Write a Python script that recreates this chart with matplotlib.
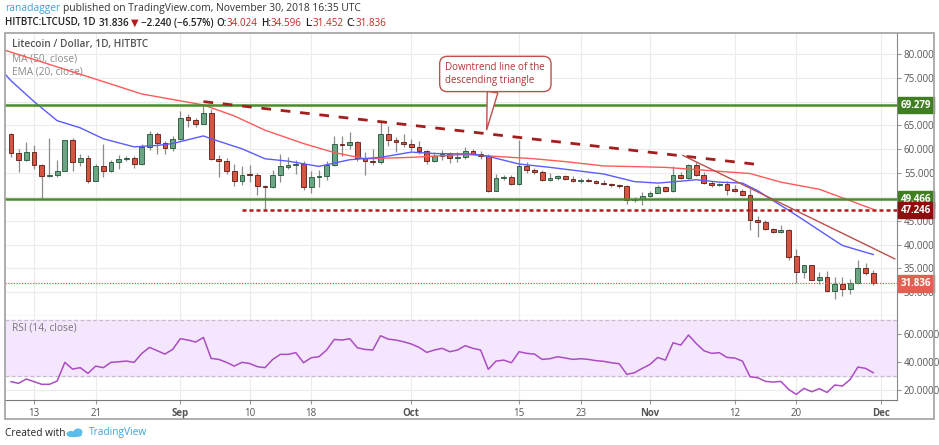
import matplotlib
matplotlib.use("Agg")
import matplotlib.pyplot as plt
import matplotlib.dates as mdates
import matplotlib.transforms as mtransforms
from matplotlib.patches import Rectangle, Ellipse
import numpy as np
import pandas as pd

plt.rcParams['font.family'] = ['Open Sans', 'DejaVu Sans']

# ---------------- data ----------------
dates = pd.date_range("2018-08-10", "2018-11-30", freq="D")

opens = [63.2, 59.2, 57.8, 59.5, 56.7, 54.3, 54.5, 55.5, 61.9, 57.3, 58.2, 53.4, 56.5, 55.4, 57.4, 58.0,
         58.2, 57.0, 60.5, 63.3, 61.4, 60.3,
         62.1, 66.7, 66.2, 65.4, 67.7, 57.9, 57.5, 55.4, 53.3, 54.7, 54.6, 52.2, 52.0, 54.6, 56.2, 56.6,
         57.0, 52.0, 54.1, 54.4, 56.7, 61.1, 60.9, 61.5, 58.2, 57.6, 57.3, 63.3, 62.0, 61.6,
         61.1, 60.4, 59.6, 57.5, 58.6, 59.0, 58.1, 58.4, 59.7, 59.1, 58.5, 51.3, 53.9, 54.2, 52.7, 56.4,
         55.7, 55.3, 53.6, 53.9, 54.4, 53.8, 53.3, 53.5, 53.3, 52.9, 52.7, 52.4, 52.2, 49.4, 49.6,
         50.1, 50.9, 52.0, 51.2, 54.6, 53.9, 56.6, 54.6, 53.0, 52.5, 52.7, 51.6, 51.3, 50.4, 45.2, 44.8,
         43.2, 42.7, 43.0, 37.5, 34.2, 35.6, 32.5, 33.1, 30.3, 31.8, 30.6, 31.9, 35.1, 34.024]
highs = [63.5, 60.1, 61.6, 60.8, 56.9, 62.4, 57.8, 62.0, 62.4, 59.0, 58.8, 57.0, 61.1, 57.7, 58.7, 58.5,
         58.5, 61.1, 63.9, 63.6, 61.7, 62.8,
         68.1, 67.4, 66.6, 69.3, 68.4, 58.7, 58.1, 57.0, 56.4, 56.6, 55.0, 52.4, 55.6, 59.0, 58.4, 57.8,
         57.6, 55.5, 55.7, 57.6, 62.8, 62.8, 63.7, 61.7, 59.4, 60.1, 65.8, 64.9, 62.5, 63.2,
         62.1, 61.8, 59.8, 59.4, 59.8, 59.4, 59.4, 60.4, 60.1, 59.6, 58.9, 54.8, 54.5, 54.5, 61.9, 57.3,
         56.1, 55.7, 55.0, 54.7, 54.7, 54.3, 53.9, 53.9, 53.5, 53.6, 53.0, 52.8, 52.4, 49.9, 51.0,
         51.2, 52.4, 52.2, 56.4, 55.2, 56.9, 57.3, 55.2, 53.4, 52.9, 53.4, 52.4, 51.7, 51.7, 45.9, 45.1,
         43.4, 44.0, 43.2, 39.1, 35.8, 35.8, 34.2, 34.5, 33.1, 33.1, 32.7, 36.7, 36.2, 34.596]
lows = [58.3, 55.2, 57.6, 55.9, 49.8, 54.1, 54.2, 55.4, 55.5, 56.4, 52.9, 53.3, 54.1, 55.2, 55.9, 57.6,
        56.1, 56.7, 59.8, 58.9, 58.9, 59.6,
        62.0, 64.6, 64.6, 65.3, 57.8, 54.1, 54.9, 52.2, 52.4, 53.1, 50.4, 47.5, 51.9, 53.1, 55.9, 54.9,
        51.5, 50.8, 52.0, 53.6, 56.5, 58.5, 60.1, 57.5, 54.7, 56.6, 57.0, 60.6, 59.4, 60.4,
        59.7, 59.0, 57.0, 57.4, 57.8, 57.1, 57.3, 58.0, 59.0, 57.9, 51.0, 51.2, 53.6, 52.4, 52.5, 55.0,
        54.8, 53.4, 53.4, 53.5, 53.5, 53.1, 52.9, 53.1, 52.7, 52.5, 52.0, 51.9, 48.6, 48.9, 48.4,
        50.0, 50.8, 51.0, 51.0, 53.8, 53.7, 54.4, 52.7, 52.0, 52.2, 50.3, 51.0, 50.1, 43.0, 41.6, 43.0,
        42.5, 42.5, 36.7, 32.0, 32.9, 32.5, 31.7, 30.1, 28.5, 29.2, 29.7, 31.8, 33.7, 31.452]
closes = [59.2, 57.8, 59.5, 56.7, 54.3, 54.5, 55.5, 61.9, 57.3, 58.2, 53.4, 56.5, 55.4, 57.4, 58.0, 58.2,
          57.0, 60.5, 63.3, 61.4, 60.3, 62.1,
          66.5, 66.2, 65.4, 67.7, 57.9, 57.5, 55.4, 53.3, 54.7, 54.6, 52.2, 52.0, 54.6, 56.4, 56.6, 56.9,
          52.0, 54.1, 54.4, 56.7, 61.1, 60.9, 61.5, 58.2, 57.6, 57.3, 63.3, 62.0, 61.6, 61.1,
          60.4, 59.6, 57.5, 58.6, 59.0, 58.1, 58.4, 59.7, 59.1, 58.5, 51.3, 54.0, 54.2, 52.7, 56.4, 55.7,
          55.3, 53.6, 53.9, 54.4, 53.8, 53.3, 53.5, 53.3, 52.9, 52.7, 52.4, 52.2, 49.4, 49.6, 50.1,
          50.9, 52.0, 51.2, 54.6, 53.9, 56.6, 54.6, 53.0, 52.5, 52.7, 51.5, 51.3, 50.4, 45.2, 44.8, 43.2,
          42.7, 43.0, 37.4, 34.2, 35.6, 32.5, 33.1, 30.3, 31.8, 30.6, 31.9, 35.1, 34.024, 31.836]

rsi = [26.0, 24.8, 27.9, 26.0, 24.1, 24.1, 26.4, 39.8, 35.0, 36.0, 31.9, 37.1, 36.0, 39.8, 40.2, 40.7,
       39.8, 46.2, 50.5, 48.1, 45.7, 49.0,
       56.7, 55.7, 54.3, 57.6, 42.6, 41.9, 39.8, 37.1, 39.8, 39.0, 36.7, 36.0, 41.9, 45.5, 45.5, 46.7,
       39.5, 43.1, 43.8, 48.6, 56.2, 55.7, 56.7, 50.2, 49.0, 48.6, 58.8, 56.4, 55.7, 54.5,
       52.9, 50.5, 46.9, 48.6, 49.8, 47.4, 48.6, 51.7, 49.8, 48.6, 34.8, 40.7, 41.4, 39.5, 47.4, 46.2,
       45.7, 41.9, 42.4, 43.8, 42.9, 41.9, 42.4, 41.9, 41.0, 40.5, 39.5, 38.8, 31.2, 32.4, 35.5,
       38.3, 43.3, 41.4, 53.8, 52.1, 59.3, 53.3, 48.1, 46.2, 46.7, 43.3, 42.9, 40.7, 29.5, 28.8, 26.2,
       25.7, 26.2, 20.5, 16.9, 21.2, 18.8, 21.0, 18.3, 23.6, 22.9, 27.6, 36.4, 35.5, 32.4]

ma50_dates = ["2018-08-09", "2018-08-22", "2018-08-27", "2018-09-04", "2018-09-08", "2018-09-12",
              "2018-09-17", "2018-09-21", "2018-09-25", "2018-10-01", "2018-10-08", "2018-10-17",
              "2018-10-21", "2018-10-26", "2018-11-03", "2018-11-08", "2018-11-14", "2018-11-18",
              "2018-11-23", "2018-11-27", "2018-11-30"]
ma50_vals = [80.9, 74.2, 71.6, 69.3, 67.0, 64.0, 61.2, 59.3, 58.0, 58.3, 58.9, 58.0,
             57.4, 56.5, 56.2, 55.6, 54.9, 53.1, 51.6, 49.2, 47.4]

ema20_dates = ["2018-08-09", "2018-08-10", "2018-08-13", "2018-08-16", "2018-08-19", "2018-08-22",
               "2018-08-26", "2018-08-29", "2018-08-31", "2018-09-04", "2018-09-05", "2018-09-09",
               "2018-09-12", "2018-09-15", "2018-09-19", "2018-09-23", "2018-09-27", "2018-10-01",
               "2018-10-04", "2018-10-09", "2018-10-11", "2018-10-15", "2018-10-19", "2018-10-23",
               "2018-10-26", "2018-10-30", "2018-11-02", "2018-11-05", "2018-11-07", "2018-11-10",
               "2018-11-13", "2018-11-15", "2018-11-17", "2018-11-19", "2018-11-21", "2018-11-24",
               "2018-11-26", "2018-11-30"]
ema20_vals = [76.2, 74.4, 70.0, 66.0, 64.5, 62.2, 60.5, 60.8, 61.2, 62.8, 62.2, 60.1,
              58.0, 57.5, 56.4, 57.8, 58.3, 59.4, 59.1, 59.0, 58.5, 56.9, 56.2, 55.4,
              54.8, 53.2, 52.9, 53.3, 53.6, 53.1, 52.9, 51.3, 49.2, 47.2, 45.1, 41.9,
              39.8, 37.9]

# drawn lines
triangle_top = (["2018-09-04", "2018-11-15"], [70.0, 56.8])
channel_line = (["2018-11-05 07:00", "2018-12-02 19:00"], [58.7, 37.0])
support_start = "2018-09-09"
green_levels = [69.279, 49.466]
red_level = 47.246
last_close = 31.836

price_ticks = [30, 35, 40, 45, 50, 55, 60, 65, 70, 75, 80]
hidden_ticks = [50, 70]  # covered by the level labels on the scale
rsi_ticks = [20, 40, 60]
date_ticks = ["2018-08-13", "2018-08-21", "2018-09-01", "2018-09-10", "2018-09-18", "2018-10-01",
              "2018-10-15", "2018-10-23", "2018-11-01", "2018-11-12", "2018-11-20", "2018-12-01"]
date_labels = ["13", "21", "Sep", "10", "18", "Oct", "15", "23", "Nov", "12", "20", "Dec"]

# ---------------- figure ----------------
W, H = 939, 445
fig = plt.figure(figsize=(W / 100, H / 100), dpi=100)
fig.patch.set_facecolor("white")


def fx(x):
    return x / W


def fy(y):
    return 1 - y / H


ax = fig.add_axes([fx(5), fy(316), fx(892), (316 - 33) / H])
ax2 = fig.add_axes([fx(5), fy(400), fx(892), (400 - 316) / H], sharex=ax)

x = mdates.date2num(dates)
o = np.array(opens)
c = np.array(closes)
h = np.array(highs)
l = np.array(lows)
up = c >= o

ax.vlines(x, l, h, color="#8c8c8c", lw=0.9, zorder=3)
body = np.maximum(np.abs(c - o), 0.15)
ax.bar(x[up], body[up], bottom=np.minimum(o, c)[up], width=0.62, color="#6ba583",
       edgecolor="#225437", lw=0.6, zorder=4)
ax.bar(x[~up], body[~up], bottom=np.minimum(o, c)[~up], width=0.62, color="#d75442",
       edgecolor="#5b1a13", lw=0.6, zorder=4)

ax.plot(pd.to_datetime(ma50_dates), ma50_vals, color="#ff5a5a", lw=1.0, zorder=5)
ax.plot(pd.to_datetime(ema20_dates), ema20_vals, color="#5b5bff", lw=1.0, zorder=5)

for lv in green_levels:
    ax.axhline(lv, color="#4a8c2a", lw=1.8, zorder=6)
ax.plot(pd.to_datetime([support_start, "2018-12-05"]), [red_level, red_level], color="#b01c1c",
        lw=1.8, ls=(0, (1.6, 1.2)), zorder=6)
ax.axhline(last_close, color="#e8574a", lw=0.9, ls=(0, (1, 1.2)), zorder=6)
ax.plot(pd.to_datetime(triangle_top[0]), triangle_top[1], color="#a31f1f", lw=2.0,
        ls=(0, (3.5, 3.5)), zorder=6)
ax.plot(pd.to_datetime(channel_line[0]), channel_line[1], color="#b5504a", lw=1.0, zorder=6)

ax.annotate("Downtrend line of the\ndescending triangle",
            xy=(pd.Timestamp("2018-10-10 19:00"), 64.1),
            xytext=(pd.Timestamp("2018-10-11 22:00"), 75.8),
            ha="center", va="center", multialignment="left", fontsize=7, color="#b03434", zorder=8,
            bbox=dict(boxstyle="round,pad=0.6,rounding_size=0.8", fc="white", ec="#c0504d", lw=1),
            arrowprops=dict(arrowstyle="wedge,tail_width=1.1,shrink_factor=0.5", fc="white",
                            ec="#c0504d", lw=1, shrinkA=0, shrinkB=0))

ax.set_xlim(pd.Timestamp("2018-08-09 05:30"), pd.Timestamp("2018-12-03 02:00"))
ax.set_ylim(25.0, 84.4)
ax.set_yticks(price_ticks)
ax.yaxis.tick_right()
ax.yaxis.set_major_formatter(matplotlib.ticker.FuncFormatter(
    lambda v, p: "" if round(v) in hidden_ticks else f"{v:.3f}"))
ax.tick_params(axis="y", length=3, color="#999999", labelsize=7, labelcolor="#555555", pad=2)
ax.tick_params(axis="x", length=0, labelbottom=False)
ax.set_xticks(pd.to_datetime(date_ticks))
ax.grid(True, color="#ececec", lw=0.8, zorder=0)
ax.set_axisbelow(True)
for s in ["top", "left"]:
    ax.spines[s].set_visible(False)
ax.spines["right"].set_color("#8a8a8a")
ax.spines["bottom"].set_color("#7a7a7a")

# price labels on the scale
tr = mtransforms.blended_transform_factory(ax.transAxes, ax.transData)
for val, col in [(69.279, "#3f7f22"), (49.466, "#3f7f22"), (47.246, "#8f0d0d"), (31.836, "#e45f52")]:
    ax.text(1.004, val, f"{val:.3f}", transform=tr, ha="left", va="center", fontsize=7,
            color="white", fontweight="bold", zorder=10,
            bbox=dict(boxstyle="square,pad=0.28", fc=col, ec=col))

ax.text(fx(7) / fx(892), 1 - (45 - 33) / 283, "Litecoin / Dollar, 1D, HITBTC", transform=ax.transAxes,
        fontsize=7.3, color="#555555", fontweight="semibold", va="center")
ax.text(fx(7) / fx(892), 1 - (59 - 33) / 283, "MA (50, close)", transform=ax.transAxes,
        fontsize=7.3, color="#8a8a8a", va="center")
ax.text(fx(7) / fx(892), 1 - (72 - 33) / 283, "EMA (20, close)", transform=ax.transAxes,
        fontsize=7.3, color="#8a8a8a", va="center")

# ---------------- RSI panel ----------------
ax2.axhspan(30, 70, color="#f4e6fd", zorder=1)
ax2.axhline(30, color="#c6bccc", lw=0.9, ls=(0, (3, 2)), zorder=2)
ax2.axhline(70, color="#c6bccc", lw=0.9, ls=(0, (3, 2)), zorder=2)
ax2.plot(dates, rsi, color="#ac4cc4", lw=1.1, zorder=4)
ax2.set_ylim(12.9, 72.9)
ax2.set_yticks(rsi_ticks)
ax2.yaxis.tick_right()
ax2.yaxis.set_major_formatter(matplotlib.ticker.FuncFormatter(lambda v, p: f"{v:.4f}"))
ax2.tick_params(axis="y", length=3, color="#999999", labelsize=7, labelcolor="#555555", pad=2)
ax2.set_xticks(pd.to_datetime(date_ticks))
ax2.set_xticklabels(date_labels)
ax2.tick_params(axis="x", length=3, color="#999999", labelsize=7, labelcolor="#555555", pad=3)
for lab in ax2.get_xticklabels():
    if not lab.get_text().isdigit():
        lab.set_fontweight("bold")
ax2.grid(True, color="#ececec", lw=0.8, zorder=0)
ax2.set_axisbelow(True)
for s in ["top", "left"]:
    ax2.spines[s].set_visible(False)
ax2.spines["right"].set_color("#8a8a8a")
ax2.spines["bottom"].set_color("#7a7a7a")
ax2.text(fx(7) / fx(892), 1 - (328 - 316) / 84, "RSI (14, close)", transform=ax2.transAxes,
         fontsize=7.3, color="#777777", va="center")

# outer frame
fig.patches.append(Rectangle((fx(5), fy(419)), fx(929), (419 - 33) / H, transform=fig.transFigure,
                             fill=False, ec="#a0a0a0", lw=1.2, zorder=20))

# ---------------- header / footer text ----------------
renderer = fig.canvas.get_renderer()


def text_runs(x0, y0, runs, size):
    xx = x0
    for s, col, w, gap in runs:
        t = fig.text(fx(xx), fy(y0), s, color=col, fontsize=size, fontweight=w, ha="left", va="center")
        bb = t.get_window_extent(renderer=renderer)
        xx += bb.width + gap


text_runs(5, 8, [("ranadagger", "#3aa3dd", "normal", 3),
                 ("published on TradingView.com, November 30, 2018 16:35 UTC", "#333333", "normal", 0)], 7.4)
red = "#c62828"
text_runs(5, 23, [("HITBTC:LTCUSD, 1D", "#222222", "semibold", 3),
                  ("31.836", "#222222", "semibold", 2),
                  ("\u25bc", "#b71c1c", "normal", 2),
                  ("\u22122.240 (\u22126.57%)", "#222222", "semibold", 3),
                  ("O:", "#222222", "semibold", 0), ("34.024", red, "normal", 3),
                  ("H:", "#222222", "semibold", 0), ("34.596", red, "normal", 3),
                  ("L:", "#222222", "semibold", 0), ("31.452", red, "normal", 3),
                  ("C:", "#222222", "semibold", 0), ("31.836", red, "normal", 0)], 7.1)

fig.text(fx(5), fy(433), "Created with", fontsize=7.3, color="#222222", ha="left", va="center")
logo = "#5bbde8"
for cx, cy, w_, h_ in [(71, 434, 9, 6), (78, 432, 9, 7), (75, 435, 14, 4)]:
    fig.patches.append(Ellipse((fx(cx), fy(cy)), fx(w_), h_ / H, transform=fig.transFigure,
                               fc=logo, ec="none"))
fig.text(fx(89), fy(433), "TradingView", fontsize=7.3, color="#3aa3dd", ha="left", va="center")

fig.savefig("out.png", dpi=100)
